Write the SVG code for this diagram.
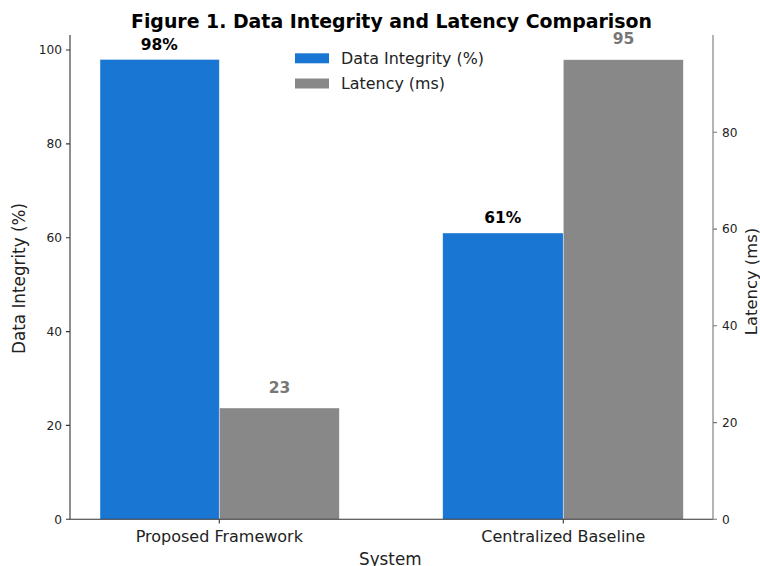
<svg xmlns="http://www.w3.org/2000/svg" width="760" height="566" viewBox="0 0 760 566">
<style>
text{font-family:"DejaVu Sans","Liberation Sans",sans-serif;fill:#222}
.tick{font-size:12.2px}
.lt{text-anchor:end}
.rt{text-anchor:start}
.xt{font-size:16px;text-anchor:middle}
.lab{font-size:16.8px;text-anchor:middle}
.val{font-size:15.5px;font-weight:bold;text-anchor:middle}
.blue{fill:#1976D2;stroke:#fff;stroke-width:0.7;stroke-opacity:0.6}
.gray{fill:#888888;stroke:#fff;stroke-width:0.7;stroke-opacity:0.6}
.ax{stroke:#333;stroke-width:1.1;fill:none}
.axr{stroke:#777;stroke-width:1.1;fill:none}
</style>
<rect width="760" height="566" fill="#fff"/>
<text x="391.5" y="27.5" style="font-size:18.9px;font-weight:bold;text-anchor:middle;fill:#000">Figure 1. Data Integrity and Latency Comparison</text>
<g id="bars">
<rect id="pf-integrity" class="blue" x="100" y="59.4" width="119.3" height="459.9"/>
<rect id="pf-latency" class="gray" x="219.3" y="408.0" width="120" height="111.3"/>
<rect id="cb-integrity" class="blue" x="442.7" y="233.0" width="120.6" height="286.3"/>
<rect id="cb-latency" class="gray" x="563.3" y="59.7" width="120" height="459.6"/>
</g>
<g id="value-labels">
<text class="val" x="159.3" y="50" style="fill:#000">98%</text>
<text class="val" x="279.5" y="393.3" style="fill:#777">23</text>
<text class="val" x="502.7" y="223" style="fill:#000">61%</text>
<text class="val" x="623.5" y="43.5" style="fill:#777">95</text>
</g>
<g id="axes">
<path class="ax" d="M70 35V519.3H713"/>
<path class="axr" d="M713 35V519.3"/>
<path class="ax" d="M66 519.3H70M66 425.4H70M66 331.6H70M66 237.7H70M66 143.9H70M66 50H70"/>
<path class="axr" d="M713 519.3H717M713 422.6H717M713 325.8H717M713 229.1H717M713 132.3H717"/>
<path class="ax" d="M219.3 519.3V523.5M563.3 519.3V523.5"/>
</g>
<g id="left-ticks" class="tick lt">
<text x="62" y="523.6">0</text>
<text x="62" y="429.7">20</text>
<text x="62" y="335.9">40</text>
<text x="62" y="242">60</text>
<text x="62" y="148.2">80</text>
<text x="62" y="54.3">100</text>
</g>
<g id="right-ticks" class="tick rt">
<text x="722" y="523.6">0</text>
<text x="722" y="426.9">20</text>
<text x="722" y="330.1">40</text>
<text x="722" y="233.4">60</text>
<text x="722" y="136.6">80</text>
</g>
<text class="xt" x="219.3" y="541.5">Proposed Framework</text>
<text class="xt" x="563.3" y="541.5">Centralized Baseline</text>
<text class="lab" x="390.3" y="565">System</text>
<text class="lab" transform="translate(24.5 278.5) rotate(-90)">Data Integrity (%)</text>
<text class="lab" style="font-size:16.4px" transform="translate(757 281.5) rotate(-90)">Latency (ms)</text>
<g id="legend">
<rect x="295" y="53.3" width="34" height="10" fill="#1976D2"/>
<rect x="295" y="78.5" width="34" height="10" fill="#888888"/>
<text x="341" y="64" style="font-size:15.9px">Data Integrity (%)</text>
<text x="341" y="89" style="font-size:15.9px">Latency (ms)</text>
</g>
</svg>
